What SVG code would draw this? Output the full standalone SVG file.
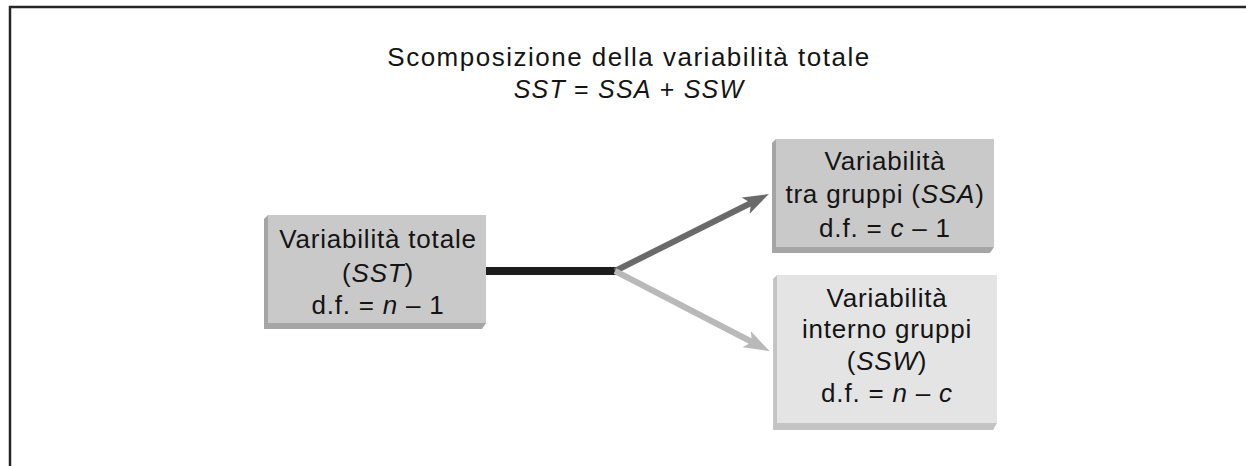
<svg xmlns="http://www.w3.org/2000/svg" width="1246" height="466" viewBox="0 0 1246 466">
  <style>
    text { font-family: "Liberation Sans", Arial, sans-serif; fill: #141414; text-anchor: middle; }
    .title { font-size: 26px; letter-spacing: 1.5px; }
    .formula { font-size: 25px; letter-spacing: 1.2px; }
    .lbl { font-size: 26px; letter-spacing: 0.8px; }
    .it { font-style: italic; }
    .frame { fill: none; stroke: #262626; stroke-width: 2.5; }
    .face-mid { fill: #c9c9c9; }
    .side-mid { fill: #a5a5a5; }
    .face-light { fill: #e4e4e4; }
    .side-light { fill: #c4c4c4; }
  </style>
  <defs>
    <marker id="head-dark" viewBox="0 0 26 20" refX="6" refY="10" markerWidth="26" markerHeight="20" markerUnits="userSpaceOnUse" orient="auto">
      <path d="M0,1 L26,10 L0,19 L6,10 Z" fill="#6a6a6a"/>
    </marker>
    <marker id="head-light" viewBox="0 0 26 20" refX="6" refY="10" markerWidth="26" markerHeight="20" markerUnits="userSpaceOnUse" orient="auto">
      <path d="M0,1 L26,10 L0,19 L6,10 Z" fill="#b9b9b9"/>
    </marker>
  </defs>

  <rect width="1246" height="466" fill="#ffffff"/>
  <path class="frame" d="M10,466 V7 H1246"/>

  <g id="title">
    <text class="title" x="629" y="66">Scomposizione della variabilità totale</text>
    <text class="formula" x="629" y="98"><tspan class="it">SST</tspan> = <tspan class="it">SSA</tspan> + <tspan class="it">SSW</tspan></text>
  </g>

  <g id="connectors">
    <line x1="486" y1="271" x2="618" y2="271" stroke="#1c1c1c" stroke-width="8"/>
    <line x1="615" y1="271" x2="751" y2="203" stroke="#6a6a6a" stroke-width="6" marker-end="url(#head-dark)"/>
    <line x1="615" y1="271" x2="752" y2="342" stroke="#b9b9b9" stroke-width="6" marker-end="url(#head-light)"/>
  </g>

  <g id="node-sst">
    <path class="side-mid" d="M264,219 L268,215 L268,323 L486,323 L482,329 L264,329 Z"/>
    <rect class="face-mid" x="268" y="215" width="218" height="108"/>
    <text class="lbl" x="378" y="248">Variabilità totale</text>
    <text class="lbl" x="378" y="282">(<tspan class="it">SST</tspan>)</text>
    <text class="lbl" x="378" y="314">d.f. = <tspan class="it">n</tspan> – 1</text>
  </g>

  <g id="node-ssa">
    <path class="side-mid" d="M772,143 L776,139 L776,247 L994,247 L990,253 L772,253 Z"/>
    <rect class="face-mid" x="776" y="139" width="218" height="108"/>
    <text class="lbl" x="885" y="170">Variabilità</text>
    <text class="lbl" x="885" y="203">tra gruppi (<tspan class="it">SSA</tspan>)</text>
    <text class="lbl" x="885" y="237">d.f. = <tspan class="it">c</tspan> – 1</text>
  </g>

  <g id="node-ssw">
    <path class="side-light" d="M773,279 L777,275 L777,423 L997,423 L993,430 L773,430 Z"/>
    <rect class="face-light" x="777" y="275" width="220" height="148"/>
    <text class="lbl" x="887" y="307">Variabilità</text>
    <text class="lbl" x="887" y="338">interno gruppi</text>
    <text class="lbl" x="887" y="370">(<tspan class="it">SSW</tspan>)</text>
    <text class="lbl" x="887" y="402">d.f. = <tspan class="it">n</tspan> – <tspan class="it">c</tspan></text>
  </g>
</svg>
